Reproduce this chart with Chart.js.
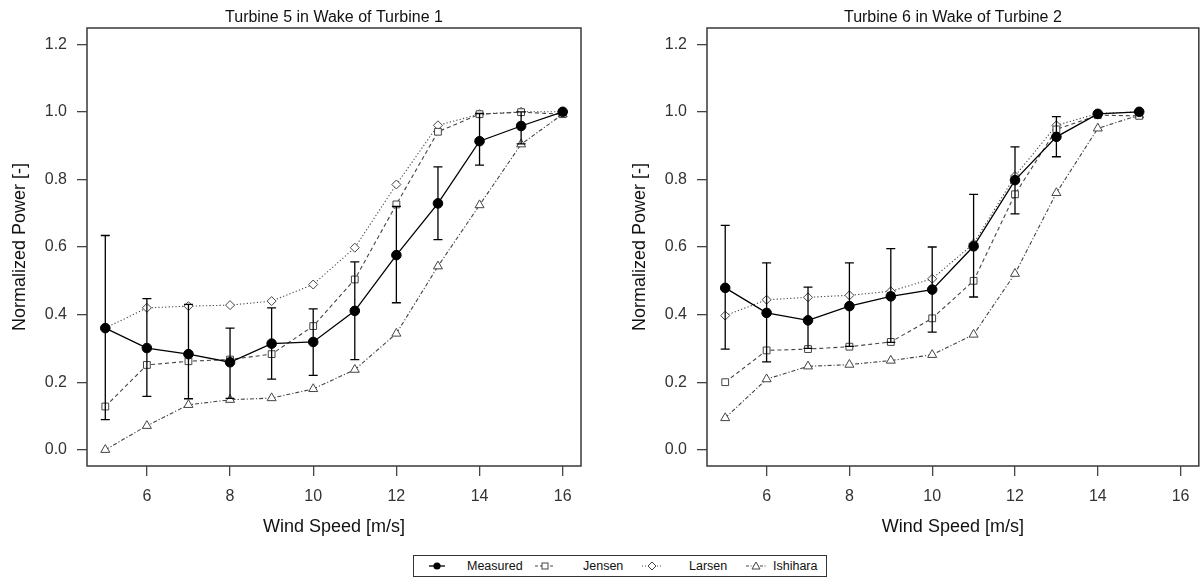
<!DOCTYPE html>
<html>
<head>
<meta charset="utf-8">
<script src="https://cdn.jsdelivr.net/npm/chart.js@4/dist/chart.umd.min.js"></script>
<style>
  html, body { margin: 0; padding: 0; background: #fff; overflow: hidden; width: 1200px; height: 581px; }
  canvas { position: absolute; top: 0; }
  #c1 { left: 0; }
  #c2 { left: 620px; }
  #legend { position: absolute; left: 413px; top: 555px; width: 414px; height: 22px; border: 1px solid #333; box-sizing: border-box; font-family: "Liberation Sans", Arial, sans-serif; font-size: 12.5px; color: #111; }
  .sym { position: absolute; top: 3px; }
  .lab { position: absolute; top: 2px; line-height: 16px; }
</style>
</head>
<body>
<canvas id="c1" width="600" height="545"></canvas>
<canvas id="c2" width="585" height="545"></canvas>
<div id="legend">
  <svg class="sym" style="left:11px" width="24" height="14"><line x1="4" y1="7" x2="20" y2="7" stroke="#000" stroke-width="1.3"/><circle cx="12" cy="7" r="3.6" fill="#000"/></svg>
  <span class="lab" style="left:53px">Measured</span>
  <svg class="sym" style="left:119px" width="24" height="14"><line x1="2" y1="7" x2="22" y2="7" stroke="#444" stroke-width="1" stroke-dasharray="3,2"/><rect x="9" y="4" width="6" height="6" fill="#fff" stroke="#444" stroke-width="1"/></svg>
  <span class="lab" style="left:169px">Jensen</span>
  <svg class="sym" style="left:226px" width="24" height="14"><line x1="2" y1="7" x2="22" y2="7" stroke="#444" stroke-width="1" stroke-dasharray="1,2"/><polygon points="12,3 16,7 12,11 8,7" fill="#fff" stroke="#444" stroke-width="1"/></svg>
  <span class="lab" style="left:275px">Larsen</span>
  <svg class="sym" style="left:330px" width="24" height="14"><line x1="2" y1="7" x2="22" y2="7" stroke="#444" stroke-width="1" stroke-dasharray="3,1.5,1,1.5"/><polygon points="12,3 16,10 8,10" fill="#fff" stroke="#444" stroke-width="1"/></svg>
  <span class="lab" style="left:359px">Ishihara</span>
</div>
<script>
// ---------- data ----------
const windSpeedT5 = [5, 6, 7, 8, 9, 10, 11, 12, 13, 14, 15, 16];
const t5Measured  = [0.360, 0.301, 0.283, 0.259, 0.314, 0.319, 0.411, 0.576, 0.729, 0.913, 0.958, 1.000];
const t5ErrLow    = [0.089, 0.158, 0.151, 0.152, 0.209, 0.220, 0.267, 0.435, 0.622, 0.842, 0.905, 1.000];
const t5ErrHigh   = [0.634, 0.447, 0.430, 0.360, 0.420, 0.417, 0.556, 0.720, 0.837, 0.995, 1.000, 1.000];
const t5Jensen    = [0.128, 0.251, 0.262, 0.267, 0.283, 0.366, 0.504, 0.726, 0.941, 0.993, 0.999, 0.993];
const t5Larsen    = [0.360, 0.420, 0.425, 0.428, 0.440, 0.489, 0.598, 0.785, 0.960, 0.993, 1.000, 1.000];
const t5Ishihara  = [0.000, 0.071, 0.133, 0.148, 0.153, 0.180, 0.237, 0.344, 0.543, 0.724, 0.904, 0.993];

const windSpeedT6 = [5, 6, 7, 8, 9, 10, 11, 12, 13, 14, 15];
const t6Measured  = [0.479, 0.405, 0.383, 0.425, 0.454, 0.474, 0.602, 0.798, 0.926, 0.994, 1.000];
const t6ErrLow    = [0.298, 0.260, 0.300, 0.306, 0.318, 0.348, 0.452, 0.698, 0.867, 0.994, 1.000];
const t6ErrHigh   = [0.664, 0.553, 0.481, 0.553, 0.595, 0.600, 0.756, 0.896, 0.986, 0.994, 1.000];
const t6Jensen    = [0.200, 0.294, 0.298, 0.305, 0.319, 0.389, 0.500, 0.756, 0.948, 0.990, 0.988];
const t6Larsen    = [0.397, 0.444, 0.451, 0.457, 0.469, 0.506, 0.610, 0.810, 0.960, 0.995, 1.000];
const t6Ishihara  = [0.094, 0.209, 0.247, 0.252, 0.264, 0.281, 0.341, 0.521, 0.760, 0.951, 0.990];

const xTickValues = [6, 8, 10, 12, 14, 16];
const yTickValues = [0.0, 0.2, 0.4, 0.6, 0.8, 1.0, 1.2];

const titleT5 = "Turbine 5 in Wake of Turbine 1";
const titleT6 = "Turbine 6 in Wake of Turbine 2";
const xTitle = "Wind Speed [m/s]";
const yTitle = "Normalized Power [-]";

// ---------- helpers ----------
const FONT = '"Liberation Sans", Arial, Helvetica, sans-serif';
const pts = (xs, ys) => xs.map((x, i) => ({ x: x, y: ys[i] }));

const decorPlugin = {
  id: 'decor',
  afterDatasetsDraw(chart, args, opts) {
    const ctx = chart.ctx;
    const xs = chart.scales.x, ys = chart.scales.y;
    ctx.save();
    ctx.strokeStyle = '#000';
    ctx.lineWidth = 1.3;
    opts.wind.forEach((w, i) => {
      const lo = opts.low[i], hi = opts.high[i];
      if (Math.abs(hi - lo) < 0.005) return;
      const px = xs.getPixelForValue(w);
      const p1 = ys.getPixelForValue(lo), p2 = ys.getPixelForValue(hi);
      ctx.beginPath();
      ctx.moveTo(px, p1); ctx.lineTo(px, p2);
      ctx.moveTo(px - 4.5, p1); ctx.lineTo(px + 4.5, p1);
      ctx.moveTo(px - 4.5, p2); ctx.lineTo(px + 4.5, p2);
      ctx.stroke();
    });
    ctx.restore();
  },
  afterDraw(chart, args, opts) {
    const ctx = chart.ctx;
    const a = chart.chartArea;
    ctx.save();
    ctx.strokeStyle = '#444';
    ctx.lineWidth = 1.6;
    ctx.strokeRect(a.left, a.top, a.right - a.left, a.bottom - a.top);
    ctx.fillStyle = '#111';
    ctx.textAlign = 'center';
    ctx.textBaseline = 'middle';
    ctx.font = '16px ' + FONT;
    ctx.fillText(opts.title, (a.left + a.right) / 2, 18);
    ctx.font = '18px ' + FONT;
    ctx.fillText(xTitle, (a.left + a.right) / 2, 527);
    ctx.translate(20, (a.top + a.bottom) / 2);
    ctx.rotate(-Math.PI / 2);
    ctx.fillText(yTitle, 0, 0);
    ctx.restore();
  }
};

function makeChart(id, wind, meas, low, high, jen, lar, ish, title, padRight) {
  const modelColor = '#444';
  return new Chart(document.getElementById(id), {
    type: 'line',
    data: {
      datasets: [
        { label: 'Measured', data: pts(wind, meas), borderColor: '#000', backgroundColor: '#000',
          borderWidth: 1.3, pointStyle: 'circle', pointRadius: 4.8, pointBorderWidth: 1,
          pointBackgroundColor: '#000', pointBorderColor: '#000', tension: 0 },
        { label: 'Jensen', data: pts(wind, jen), borderColor: modelColor, borderWidth: 1.1,
          borderDash: [4, 3], pointStyle: 'rect', pointRadius: 4.8, pointBorderWidth: 1,
          pointBackgroundColor: '#fff', pointBorderColor: modelColor, tension: 0 },
        { label: 'Larsen', data: pts(wind, lar), borderColor: modelColor, borderWidth: 1.1,
          borderDash: [1.2, 2.2], pointStyle: 'rectRot', pointRadius: 4.5, pointBorderWidth: 1,
          pointBackgroundColor: '#fff', pointBorderColor: modelColor, tension: 0 },
        { label: 'Ishihara', data: pts(wind, ish), borderColor: modelColor, borderWidth: 1.1,
          borderDash: [4, 2, 1.2, 2], pointStyle: 'triangle', pointRadius: 5.2, pointBorderWidth: 1,
          pointBackgroundColor: '#fff', pointBorderColor: modelColor, tension: 0 }
      ]
    },
    options: {
      responsive: false,
      animation: false,
      devicePixelRatio: 1,
      layout: { padding: { top: 28, right: padRight, left: 0, bottom: 0 } },
      plugins: {
        legend: { display: false },
        tooltip: { enabled: false },
        decor: { wind: wind, low: low, high: high, title: title }
      },
      scales: {
        x: {
          type: 'linear', min: 4.56, max: 16.44,
          afterBuildTicks: s => { s.ticks = xTickValues.map(v => ({ value: v })); },
          afterFit: s => { s.height = 79; },
          grid: { drawOnChartArea: false, drawTicks: true, tickLength: 10, color: '#444', lineWidth: 1.3 },
          border: { display: false },
          ticks: { autoSkip: false, maxRotation: 0, padding: 11, color: '#333',
                   font: { family: FONT, size: 16 }, callback: v => String(v) }
        },
        y: {
          type: 'linear', min: -0.048, max: 1.248,
          afterBuildTicks: s => { s.ticks = yTickValues.map(v => ({ value: v })); },
          afterFit: s => { s.width = 87; },
          grid: { drawOnChartArea: false, drawTicks: true, tickLength: 10, color: '#444', lineWidth: 1.3 },
          border: { display: false },
          ticks: { padding: 10, color: '#333', font: { family: FONT, size: 16 },
                   callback: v => Number(v).toFixed(1) }
        }
      }
    },
    plugins: [decorPlugin]
  });
}

makeChart('c1', windSpeedT5, t5Measured, t5ErrLow, t5ErrHigh, t5Jensen, t5Larsen, t5Ishihara, titleT5, 19);
makeChart('c2', windSpeedT6, t6Measured, t6ErrLow, t6ErrHigh, t6Jensen, t6Larsen, t6Ishihara, titleT6, 4);
</script>
</body>
</html>
